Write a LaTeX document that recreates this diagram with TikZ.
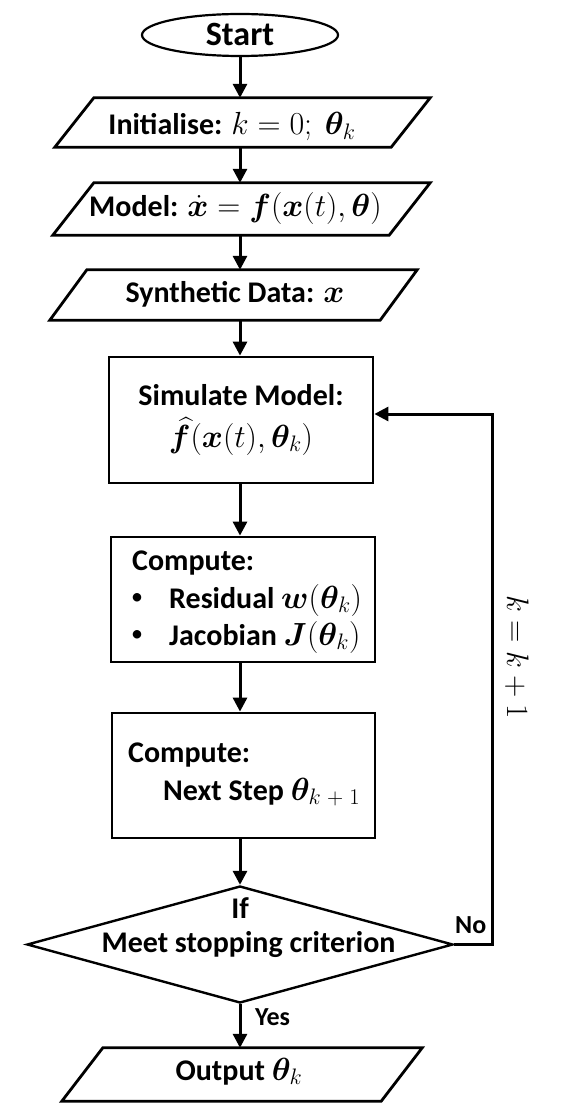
\RequirePackage{fix-cm}
\documentclass[tikz,border=0pt]{standalone}
\usepackage{amsmath}
\usepackage{bm}
\usepackage{fontspec}
\setmainfont{Carlito}
\usetikzlibrary{shapes.geometric,arrows.meta,calc}
\tikzset{
  shp/.style={draw=black,line width=2.8pt,inner sep=0pt,fill=white},
  pbox/.style={rectangle,inner sep=0pt},
  pline/.style={line width=2.8pt,line join=miter},
  boxr/.style={shp,rectangle},
  txt/.style={inner sep=0pt,font=\fontsize{30}{34}\selectfont\bfseries},
  lbl/.style={inner sep=0pt,font=\fontsize{26}{30}\selectfont\bfseries},
  arr/.style={line width=3pt,-{Triangle[length=14pt,width=14pt]}},
}
\newcommand{\M}[1]{{\fontsize{32}{36}\selectfont$#1$}}
\newcommand{\drawpgram}[2]{%
  \draw[pline] (#1.south west) -- ($(#1.north west)+(#2,0)$) -- (#1.north east) -- ($(#1.south east)-(#2,0)$) -- cycle;}
\begin{document}
\begin{tikzpicture}[x=1pt,y=-1pt]
\useasboundingbox (0,0) rectangle (570,1107);
% shapes
\node[shp,ellipse,line width=2.2pt,minimum width=196pt,minimum height=42pt] (start) at (240,35) {};
\node[pbox,minimum width=375pt,minimum height=49pt] (init) at (242.5,122.5) {};
\node[pbox,minimum width=377pt,minimum height=52pt] (model) at (241.5,209) {};
\node[pbox,minimum width=367pt,minimum height=50pt] (synth) at (233.5,295) {};
\node[boxr,minimum width=264pt,minimum height=126pt] (sim) at (241,420) {};
\node[boxr,minimum width=264pt,minimum height=125pt] (comp) at (243,599.5) {};
\node[boxr,minimum width=263pt,minimum height=125pt] (next) at (243.5,775.5) {};
\node[shp,diamond,line width=2.4pt,minimum width=426pt,minimum height=117pt] (dec) at (240,944.5) {};
\node[pbox,minimum width=360pt,minimum height=53pt] (out) at (242,1074.5) {};
\drawpgram{init}{39}
\drawpgram{model}{41}
\drawpgram{synth}{37}
\drawpgram{out}{41}
% texts
\node[txt,anchor=base,font=\fontsize{34}{38}\selectfont\bfseries] (tstart) at (240,46) {Start};
\node[txt,anchor=base] (tinit) at (232,135) {Initialise: \M{k=0;\ \bm{\theta}_k}};
\node[txt,anchor=base] (tmodel) at (235.5,217) {Model: \M{\dot{\bm{x}}=\bm{f}(\bm{x}(t),\bm{\theta})}};
\node[txt,anchor=base] (tsynth) at (235,302) {Synthetic Data: \M{\bm{x}}};
\node[txt,anchor=base] (tsim1) at (241,405) {Simulate Model:};
\node[txt,anchor=base] (tsim2) at (241,447) {\M{\widehat{\bm{f}}(\bm{x}(t),\bm{\theta}_k)}};
\node[txt,anchor=base west] (tc1) at (132,570) {Compute:};
\node[inner sep=0pt,anchor=base west,font=\fontsize{24}{28}\selectfont] (tb1) at (131,604) {\textbullet};
\node[txt,anchor=base west] (tr1) at (169,608) {Residual \M{\bm{w}(\bm{\theta}_k)}};
\node[inner sep=0pt,anchor=base west,font=\fontsize{24}{28}\selectfont] (tb2) at (131,641) {\textbullet};
\node[txt,anchor=base west] (tr2) at (169,645) {Jacobian \M{\bm{J}(\bm{\theta}_k)}};
\node[txt,anchor=base west] (tn1) at (128,762) {Compute:};
\node[txt,anchor=base west] (tn2) at (163,800) {Next Step \M{\bm{\theta}_{k\;+\;1}}};
\node[txt,anchor=base] (tif) at (240,918) {If};
\node[txt,anchor=base] (tmeet) at (248.5,952) {Meet stopping criterion};
\node[txt,anchor=base] (tout) at (239,1080) {Output \M{\bm{\theta}_k}};
\node[lbl,anchor=base west] (tno) at (455,933) {No};
\node[lbl,anchor=base west] (tyes) at (255,1025) {Yes};
\node[inner sep=0pt,rotate=-90,font=\fontsize{31}{34}\selectfont] (tkk) at (517,657) {$k=k+1$};
% connectors
\draw[arr] (start.south) -- (start.south |- init.north);
\draw[arr] (start |- init.south) -- (start |- model.north);
\draw[arr] (start |- model.south) -- (start |- synth.north);
\draw[arr] (start |- synth.south) -- (start |- sim.north);
\draw[arr] (start |- sim.south) -- (start |- comp.north);
\draw[arr] (start |- comp.south) -- (start |- next.north);
\draw[arr] (start |- next.south) -- (start |- dec.north);
\draw[arr] (start |- dec.south) -- (start |- out.north);
\coordinate (fb) at (492,414);
\draw[arr] (dec.east) -| (fb) -- (fb -| sim.east);
\end{tikzpicture}
\end{document}
